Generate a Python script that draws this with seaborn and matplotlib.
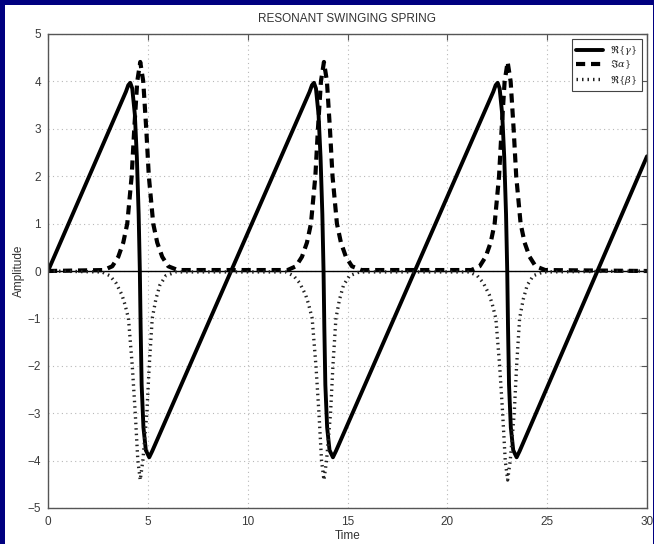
import matplotlib
matplotlib.use("Agg")
import matplotlib.pyplot as plt
import seaborn as sns
from matplotlib.patches import Rectangle

# Re{gamma}: sawtooth
t_gamma = [0, 3.9, 4.02, 4.12, 4.22, 4.35, 4.45, 4.54, 4.6, 4.64, 4.69, 4.78, 4.9, 5.07, 5.22,
           13.1, 13.22, 13.32, 13.42, 13.55, 13.65, 13.74, 13.8, 13.84, 13.89, 13.98, 14.1, 14.27, 14.42,
           22.3, 22.42, 22.52, 22.62, 22.75, 22.85, 22.94, 23.0, 23.04, 23.09, 23.18, 23.3, 23.47, 23.62,
           30]
re_gamma = [0, 3.78, 3.92, 3.97, 3.85, 3.3, 2.4, 1.2, 0.0, -1.2, -2.4, -3.3, -3.78, -3.93, -3.8,
            3.78, 3.92, 3.97, 3.85, 3.3, 2.4, 1.2, 0.0, -1.2, -2.4, -3.3, -3.78, -3.93, -3.8,
            3.78, 3.92, 3.97, 3.85, 3.3, 2.4, 1.2, 0.0, -1.2, -2.4, -3.3, -3.78, -3.93, -3.8,
            2.42]

# Im{alpha}: positive spikes
t_alpha = [0, 2.8, 3.22, 3.52, 3.77, 3.97, 4.19, 4.32, 4.47, 4.62, 4.77, 4.92, 5.05, 5.27, 5.47, 5.72, 6.02, 6.5,
           12.0, 12.42, 12.72, 12.97, 13.17, 13.39, 13.52, 13.67, 13.82, 13.97, 14.12, 14.25, 14.47, 14.67, 14.92, 15.22, 15.7,
           21.2, 21.62, 21.92, 22.17, 22.37, 22.59, 22.72, 22.87, 23.02, 23.17, 23.32, 23.45, 23.67, 23.87, 24.12, 24.42, 24.9,
           30]
im_alpha = [0, 0.02, 0.1, 0.3, 0.6, 1.0, 2.0, 3.0, 4.0, 4.41, 4.0, 3.0, 2.0, 1.0, 0.6, 0.3, 0.1, 0.02,
            0.02, 0.1, 0.3, 0.6, 1.0, 2.0, 3.0, 4.0, 4.41, 4.0, 3.0, 2.0, 1.0, 0.6, 0.3, 0.1, 0.02,
            0.02, 0.1, 0.3, 0.6, 1.0, 2.0, 3.0, 4.0, 4.41, 4.0, 3.0, 2.0, 1.0, 0.6, 0.3, 0.1, 0.02,
            0]

# Re{beta}: negative spikes
t_beta = [0, 2.7, 3.1, 3.4, 3.7, 3.85, 4.03, 4.22, 4.37, 4.5, 4.62, 4.75, 4.95, 5.07, 5.22, 5.4, 5.6, 5.9, 6.4,
          11.9, 12.3, 12.6, 12.9, 13.05, 13.23, 13.42, 13.57, 13.7, 13.82, 13.95, 14.15, 14.27, 14.42, 14.6, 14.8, 15.1, 15.6,
          21.1, 21.5, 21.8, 22.1, 22.25, 22.43, 22.62, 22.77, 22.9, 23.02, 23.15, 23.35, 23.47, 23.62, 23.8, 24.0, 24.3, 24.8,
          30]
re_beta = [0, -0.02, -0.1, -0.25, -0.5, -0.7, -1.0, -2.0, -3.0, -4.0, -4.41, -4.0, -3.0, -2.0, -1.0, -0.6, -0.3, -0.1, -0.02,
           -0.02, -0.1, -0.25, -0.5, -0.7, -1.0, -2.0, -3.0, -4.0, -4.41, -4.0, -3.0, -2.0, -1.0, -0.6, -0.3, -0.1, -0.02,
           -0.02, -0.1, -0.25, -0.5, -0.7, -1.0, -2.0, -3.0, -4.0, -4.41, -4.0, -3.0, -2.0, -1.0, -0.6, -0.3, -0.1, -0.02,
           0]

labels = [r'$\Re\{\gamma\}$', r'$\Im\alpha\}$', r'$\Re\{\beta\}$']
xticks = [0, 5, 10, 15, 20, 25, 30]
yticks = [-5, -4, -3, -2, -1, 0, 1, 2, 3, 4, 5]

sns.set_style("white")
plt.rcParams['font.family'] = ['Liberation Sans', 'DejaVu Sans']
plt.rcParams['mathtext.fontset'] = 'dejavuserif'

fig = plt.figure(figsize=(6.54, 5.44), dpi=100)
fig.patch.set_facecolor('#000080')
# white page inside the navy frame
fig.add_artist(Rectangle((5 / 654, 0), 648 / 654, 539 / 544,
                         transform=fig.transFigure, facecolor='white',
                         edgecolor='none', zorder=-10))
ax = fig.add_axes([48 / 654, 1 - 508 / 544, 599 / 654, 474 / 544])
ax.set_facecolor('white')

ax.axhline(0, color='black', lw=1.0, zorder=1)
sns.lineplot(x=t_gamma, y=re_gamma, ax=ax, color='black', lw=2.8, sort=False,
             estimator=None, label=labels[0])
sns.lineplot(x=t_alpha, y=im_alpha, ax=ax, color='black', lw=3.0, sort=False,
             estimator=None, label=labels[1], dashes=False, linestyle=(0, (2.2, 1.4)))
sns.lineplot(x=t_beta, y=re_beta, ax=ax, color='#222222', lw=2.4, sort=False,
             estimator=None, label=labels[2], dashes=False, linestyle=(0, (0.45, 1.2)))

ax.set_xlim(0, 30)
ax.set_ylim(-5, 5)
ax.set_xticks(xticks)
ax.set_yticks(yticks)
ax.grid(True, color='#b8b8b8', linestyle=(0, (1, 3)), lw=0.8)
ax.tick_params(direction='in', top=True, right=True, length=4, width=0.8,
               colors='#555555', labelcolor='#3a3a3a', labelsize=8.5)
ax.tick_params(axis='x', pad=6)
ax.tick_params(axis='y', pad=5)
for s in ax.spines.values():
    s.set_color('#555555')
    s.set_linewidth(1.0)

ax.set_title('RESONANT SWINGING SPRING', fontsize=8.5, color='#333333', pad=9)
ax.set_xlabel('Time', fontsize=8.5, color='#333333', labelpad=1)
ax.set_ylabel('Amplitude', fontsize=8.5, color='#333333', labelpad=2)

leg = ax.legend(loc='upper right', fontsize=7, frameon=True, fancybox=False,
                framealpha=1, edgecolor='#444444', handlelength=2.8,
                borderaxespad=0.5, labelspacing=0.15, borderpad=0.45,
                handletextpad=0.7)
leg.get_frame().set_linewidth(0.8)

fig.savefig('out.png', dpi=100, facecolor=fig.get_facecolor())
